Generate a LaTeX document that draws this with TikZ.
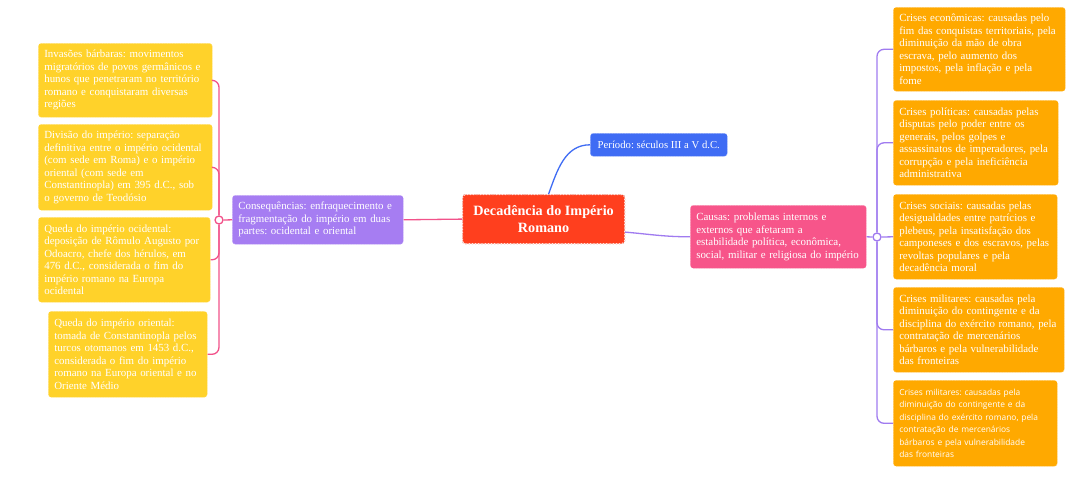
\documentclass[tikz,border=0pt]{standalone}
\usepackage{fontspec}
\setmainfont{Liberation Serif}
\newfontfamily\sansf{Open Sans}
\frenchspacing
\definecolor{cyellow}{HTML}{FFD22A}
\definecolor{corange}{HTML}{FFA900}
\definecolor{croot}{HTML}{FF3F1E}
\definecolor{cblue}{HTML}{3F6CF4}
\definecolor{cpink}{HTML}{F7558A}
\definecolor{cpurple}{HTML}{A67DF2}
\definecolor{lpink}{HTML}{F2528A}
\definecolor{lpurple}{HTML}{A07BF0}
\definecolor{lblue}{HTML}{3F6CF4}
\tikzset{
  box/.style={draw=white!55!#1, fill=#1, dotted, line width=0.6pt, rounded corners=3pt,
    anchor=north west, inner xsep=6pt, inner ysep=2pt, align=left, text=white,
    font=\fontsize{10.9}{12.5}\selectfont},
  rootbox/.style={preaction={draw=croot!70!black, line width=1.2pt},
    draw=white!85!croot, fill=croot, dotted, line width=1.2pt,
    rounded corners=3pt, anchor=north west, align=center, text=white,
    font=\bfseries\fontsize{14.2}{17}\selectfont},
  hub/.style={circle, draw=#1, fill=white, line width=1.3pt, inner sep=0pt, minimum size=8pt},
  link/.style={draw=#1, line width=1.3pt, rounded corners=7pt},
}
\begin{document}
\begin{tikzpicture}[x=1pt,y=-1pt]
\useasboundingbox[fill=white] (0,0) rectangle (1087,490);

% hubs
\node[hub=lpink] (cl) at (219,220) {};
\node[hub=lpurple] (cr) at (877,237) {};

% central topic
\node[rootbox, minimum width=162pt, minimum height=49pt] (root) at (462,194)
  {Decadência do Império\\Romano};

% main branches
\node[box=cblue, minimum width=137pt, minimum height=23pt, align=center,
      font=\fontsize{10.7}{12.5}\selectfont] (per) at (590,133)
  {Período: séculos III a V d.C.};
\node[box=cpurple, minimum width=171pt, minimum height=49pt, text width=159pt] (cons) at (232,195)
  {Consequências: enfraquecimento e\\fragmentação do império em duas\\partes: ocidental e oriental};
\node[box=cpink, minimum width=176pt, minimum height=63pt, text width=164pt] (cau) at (690,205)
  {Causas: problemas internos e\\externos que afetaram a\\estabilidade política, econômica,\\social, militar e religiosa do império};

% consequences
\node[box=cyellow, minimum width=174pt, minimum height=74pt, text width=162pt] (l1) at (38,43)
  {Invasões bárbaras: movimentos\\migratórios de povos germânicos e\\hunos que penetraram no território\\romano e conquistaram diversas\\regiões};
\node[box=cyellow, minimum width=174pt, minimum height=86pt, text width=162pt] (l2) at (38,124)
  {Divisão do império: separação\\definitiva entre o império ocidental\\(com sede em Roma) e o império\\oriental (com sede em\\Constantinopla) em 395 d.C., sob\\o governo de Teodósio};
\node[box=cyellow, minimum width=172pt, minimum height=85pt, text width=160pt] (l3) at (38,217)
  {Queda do império ocidental:\\deposição de Rômulo Augusto por\\Odoacro, chefe dos hérulos, em\\476 d.C., considerada o fim do\\império romano na Europa\\ocidental};
\node[box=cyellow, minimum width=159pt, minimum height=86pt, text width=147pt] (l4) at (48,311)
  {Queda do império oriental:\\tomada de Constantinopla pelos\\turcos otomanos em 1453 d.C.,\\considerada o fim do império\\romano na Europa oriental e no\\Oriente Médio};

% causes
\node[box=corange, minimum width=172pt, minimum height=84pt, text width=160pt] (r1) at (893,7)
  {Crises econômicas: causadas pelo\\fim das conquistas territoriais, pela\\diminuição da mão de obra\\escrava, pelo aumento dos\\impostos, pela inflação e pela\\fome};
\node[box=corange, minimum width=165pt, minimum height=85pt, text width=153pt] (r2) at (893,100)
  {Crises políticas: causadas pelas\\disputas pelo poder entre os\\generais, pelos golpes e\\assassinatos de imperadores, pela\\corrupção e pela ineficiência\\administrativa};
\node[box=corange, minimum width=164pt, minimum height=85pt, text width=152pt] (r3) at (893,194)
  {Crises sociais: causadas pelas\\desigualdades entre patrícios e\\plebeus, pela insatisfação dos\\camponeses e dos escravos, pelas\\revoltas populares e pela\\decadência moral};
\node[box=corange, minimum width=171pt, minimum height=85pt, text width=159pt] (r4) at (893,287)
  {Crises militares: causadas pela\\diminuição do contingente e da\\disciplina do exército romano, pela\\contratação de mercenários\\bárbaros e pela vulnerabilidade\\das fronteiras};
\node[box=corange, minimum width=164pt, minimum height=86pt, text width=152pt,
      font=\sansf\fontsize{8.4}{12.5}\selectfont] (r5) at (893,380)
  {Crises militares: causadas pela\\diminuição do contingente e da\\disciplina do exército romano, pela\\contratação de mercenários\\bárbaros e pela vulnerabilidade\\das fronteiras};

% connectors
\draw[link=lblue, rounded corners=0pt] ([xshift=5pt]root.north) to[out=70,in=180] (per.west);
\draw[link=lpink] (root.west) -- (cons.east);
\draw[link=lpink] (cons.west) -- (cl.east);
\draw[link=lpurple, rounded corners=0pt] ([yshift=-13pt]root.east) to[out=-5,in=180] (cau.west);
\draw[link=lpurple] (cau.east) -- (cr.west);

\draw[link=lpink] (cl.north) |- (l1.east);
\draw[link=lpink] (cl.north) |- (l2.east);
\draw[link=lpink] (cl.south) |- (l3.east);
\draw[link=lpink] (cl.south) |- (l4.east);

\draw[link=lpurple] (cr.north) |- (r1.west);
\draw[link=lpurple] (cr.north) |- (r2.west);
\draw[link=lpurple] (cr.east) -- (r3.west);
\draw[link=lpurple] (cr.south) |- (r4.west);
\draw[link=lpurple] (cr.south) |- (r5.west);
\end{tikzpicture}
\end{document}
